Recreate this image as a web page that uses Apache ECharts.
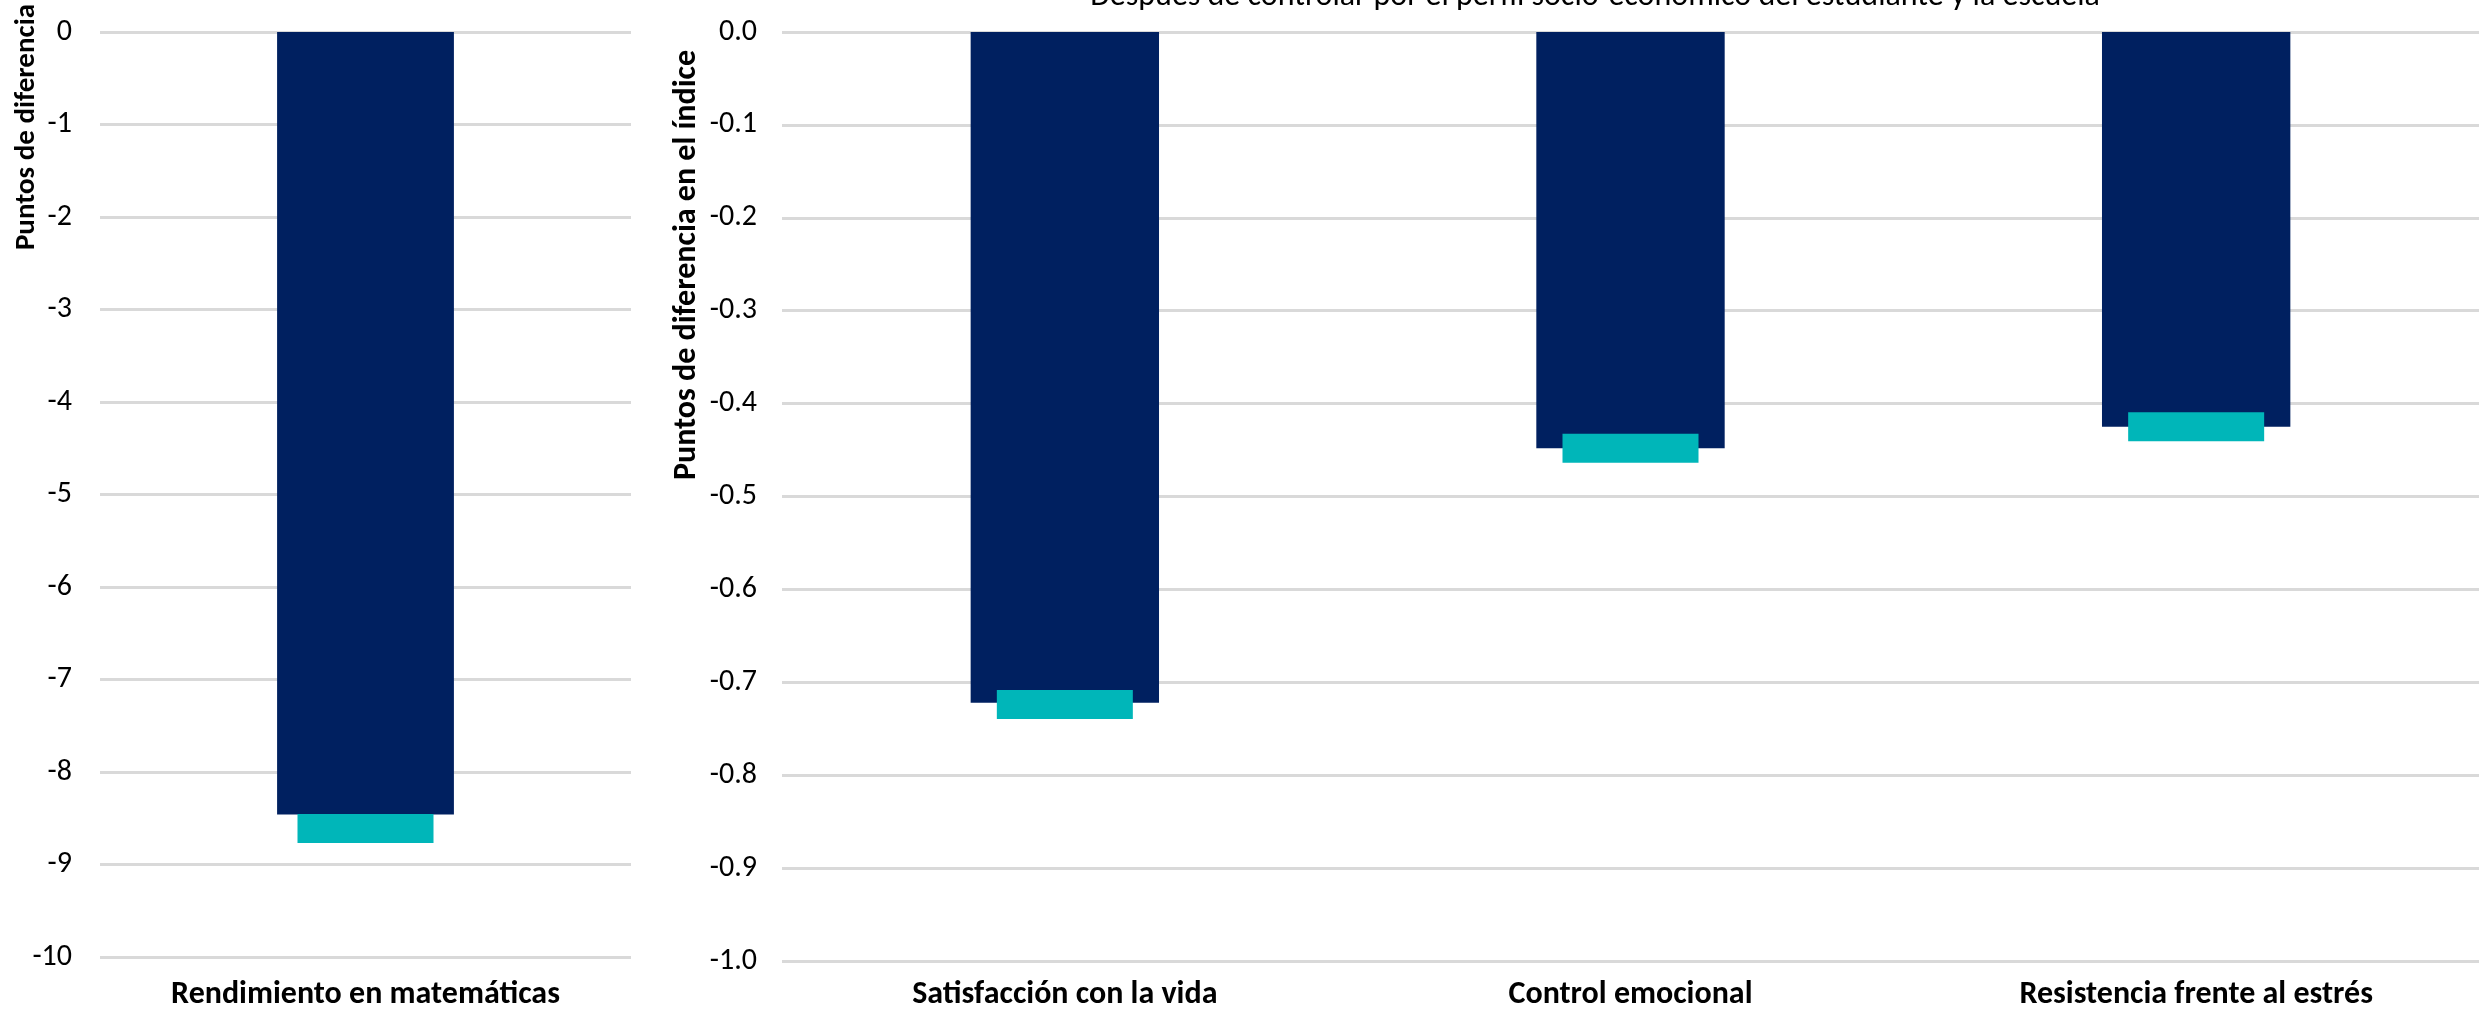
<!DOCTYPE html>
<html>
<head>
<meta charset="utf-8">
<script src="https://cdn.jsdelivr.net/npm/echarts@6/dist/echarts.min.js"></script>
<style>
html,body{margin:0;padding:0;background:#fff;}
#chart{width:2483px;height:1016px;}
</style>
</head>
<body>
<div id="chart"></div>
<script>
// ---- data ----
const leftCategories = ['Rendimiento en matemáticas'];
const leftBarValues = [-8.46];
const leftMarkerValues = [-8.61];
const leftTicks = { min: -10, max: 0, interval: 1 };

const rightCategories = ['Satisfacción con la vida', 'Control emocional', 'Resistencia frente al estrés'];
const rightBarValues = [-0.722, -0.448, -0.425];
const rightMarkerValues = [-0.724, -0.448, -0.425];
const rightTicks = { min: -1, max: 0, interval: 0.1 };

const leftAxisName = 'Puntos de diferencia';
const rightAxisName = 'Puntos de diferencia en el índice';
const subtitle = 'Después de controlar por el perfil socio-económico del estudiante y la escuela';

// ---- styles ----
const FONT = 'Carlito, Calibri, Lato, "Liberation Sans", sans-serif';
const NAVY = '#002060';
const TEAL = '#00B6B9';
const GRID = '#D9D9D9';

const chart = echarts.init(document.getElementById('chart'), null, { renderer: 'canvas' });

function catAxis(idx, data, margin) {
  return {
    type: 'category', gridIndex: idx, data: data, position: 'bottom',
    axisLine: { show: false, onZero: false }, axisTick: { show: false },
    axisLabel: { color: '#000', fontFamily: FONT, fontWeight: 'bold', fontSize: 32, margin: margin, interval: 0 },
    splitLine: { show: false }
  };
}
function valAxis(idx, t, fmt, margin) {
  return {
    type: 'value', gridIndex: idx, min: t.min, max: t.max, interval: t.interval,
    axisLine: { show: false }, axisTick: { show: false },
    axisLabel: { color: '#000', fontFamily: FONT, fontSize: 30, margin: margin, formatter: fmt },
    splitLine: { show: true, lineStyle: { color: GRID, width: 3 } }
  };
}

const option = {
  animation: false,
  backgroundColor: '#fff',
  grid: [
    { left: 100, top: 32, width: 531, height: 925 },
    { left: 782, top: 32, width: 1697, height: 929 }
  ],
  xAxis: [catAxis(0, leftCategories, 22), catAxis(1, rightCategories, 18)],
  yAxis: [
    valAxis(0, leftTicks, v => String(Math.round(v)), 28),
    valAxis(1, rightTicks, v => (Math.round(v * 10) / 10).toFixed(1), 25)
  ],
  series: [
    { type: 'bar', xAxisIndex: 0, yAxisIndex: 0, data: leftBarValues, barWidth: '33.3%', itemStyle: { color: NAVY }, z: 2 },
    { type: 'scatter', xAxisIndex: 0, yAxisIndex: 0, data: leftMarkerValues, symbol: 'rect', symbolSize: [136, 29], itemStyle: { color: TEAL, opacity: 1 }, z: 3 },
    { type: 'bar', xAxisIndex: 1, yAxisIndex: 1, data: rightBarValues, barWidth: '33.3%', itemStyle: { color: NAVY }, z: 2 },
    { type: 'scatter', xAxisIndex: 1, yAxisIndex: 1, data: rightMarkerValues, symbol: 'rect', symbolSize: [136, 29], itemStyle: { color: TEAL, opacity: 1 }, z: 3 }
  ],
  graphic: { elements: [
    { type: 'text', x: 27, y: 127, rotation: Math.PI / 2,
      style: { text: leftAxisName, fontFamily: FONT, fontWeight: 'bold', fontSize: 29, fill: '#000', align: 'center', verticalAlign: 'middle', textAlign: 'center', textVerticalAlign: 'middle' } },
    { type: 'text', x: 687, y: 265, rotation: Math.PI / 2,
      style: { text: rightAxisName, fontFamily: FONT, fontWeight: 'bold', fontSize: 32, fill: '#000', align: 'center', verticalAlign: 'middle', textAlign: 'center', textVerticalAlign: 'middle' } },
    { type: 'text', x: 1595, y: -3,
      style: { text: subtitle, fontFamily: FONT, fontSize: 32, fill: '#000', align: 'center', verticalAlign: 'middle', textAlign: 'center', textVerticalAlign: 'middle' } }
  ] }
};
chart.setOption(option);
</script>
</body>
</html>
